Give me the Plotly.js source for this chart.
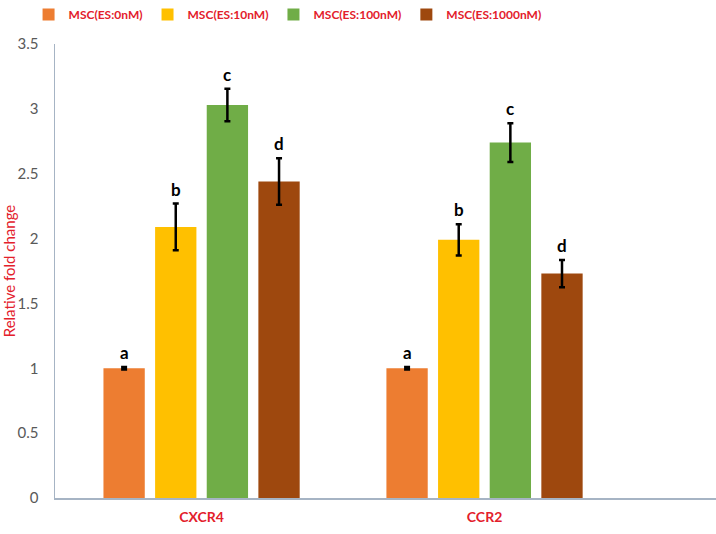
<!DOCTYPE html>
<html>
<head>
<meta charset="utf-8">
<script src="https://cdn.plot.ly/plotly-3.0.1.min.js"></script>
<style>html,body{margin:0;padding:0;background:#fff;}#chart{width:716px;height:534px;}</style>
</head>
<body>
<div id="chart"></div>
<script>
const categories = ["CXCR4", "CCR2"];
const seriesNames = ["MSC(ES:0nM)", "MSC(ES:10nM)", "MSC(ES:100nM)", "MSC(ES:1000nM)"];
const es0 = [1.0, 1.0];
const es10 = [2.09, 1.99];
const es100 = [3.03, 2.74];
const es1000 = [2.44, 1.73];
const err0 = [0.01, 0.01];
const err10 = [0.18, 0.12];
const err100 = [0.125, 0.15];
const err1000 = [0.18, 0.105];
const letters0 = ["a", "a"];
const letters10 = ["b", "b"];
const letters100 = ["c", "c"];
const letters1000 = ["d", "d"];
const colors = ["#ED7D31", "#FFC000", "#70AD47", "#9E480E"];

const values = [es0, es10, es100, es1000];
const errs = [err0, err10, err100, err1000];
const letters = [letters0, letters10, letters100, letters1000];

const bargap = 0.27, bargroupgap = 0.2;
const nS = values.length;
const slot = (1 - bargap) / nS;

const traces = values.map((v, i) => ({
  type: "bar",
  name: seriesNames[i],
  x: categories,
  y: v,
  marker: {color: colors[i]},
  error_y: {type: "data", array: errs[i], visible: true, color: "#000", thickness: 2.5, width: 3},
  hoverinfo: "none"
}));

const annotations = [];
values.forEach((v, i) => {
  v.forEach((val, j) => {
    annotations.push({
      x: j + (i - (nS - 1) / 2) * slot,
      y: val + errs[i][j],
      xref: "x", yref: "y",
      text: "<b>" + letters[i][j] + "</b>",
      showarrow: false,
      yanchor: "bottom",
      yshift: 2,
      font: {family: "Lato, 'Open Sans', sans-serif", size: 17, color: "#000"}
    });
  });
});

const layout = {
  width: 716, height: 534,
  margin: {l: 55, r: 0, t: 41, b: 36},
  paper_bgcolor: "#fff", plot_bgcolor: "#fff",
  barmode: "group", bargap: bargap, bargroupgap: bargroupgap,
  font: {family: "Lato, 'Open Sans', sans-serif", color: "#595959"},
  showlegend: true,
  legend: {
    orientation: "h", x: -0.04, xanchor: "left", y: 1.066, yanchor: "middle",
    font: {size: 12, color: "#E3202B", family: "Lato, sans-serif", weight: "bold"},
    traceorder: "normal", itemclick: false
  },
  xaxis: {
    type: "category", range: [-0.518, 1.818],
    showline: true, linecolor: "#A6B4C4", linewidth: 1.5,
    showgrid: false, zeroline: false, ticks: "",
    tickfont: {size: 14, color: "#E3202B", weight: "bold"},
    ticklabelstandoff: 6
  },
  yaxis: {
    range: [0, 3.5], dtick: 0.5, tick0: 0,
    showline: true, linecolor: "#A6B4C4", linewidth: 1.5,
    showgrid: false, zeroline: false,
    ticks: "outside", ticklen: 12, tickcolor: "rgba(0,0,0,0)",
    tickfont: {size: 15, color: "#595959"},
    title: {text: "Relative fold change", font: {size: 15, color: "#E3202B"}, standoff: 4}
  },
  annotations: annotations
};

Plotly.newPlot("chart", traces, layout, {displayModeBar: false, staticPlot: true});
</script>
</body>
</html>
